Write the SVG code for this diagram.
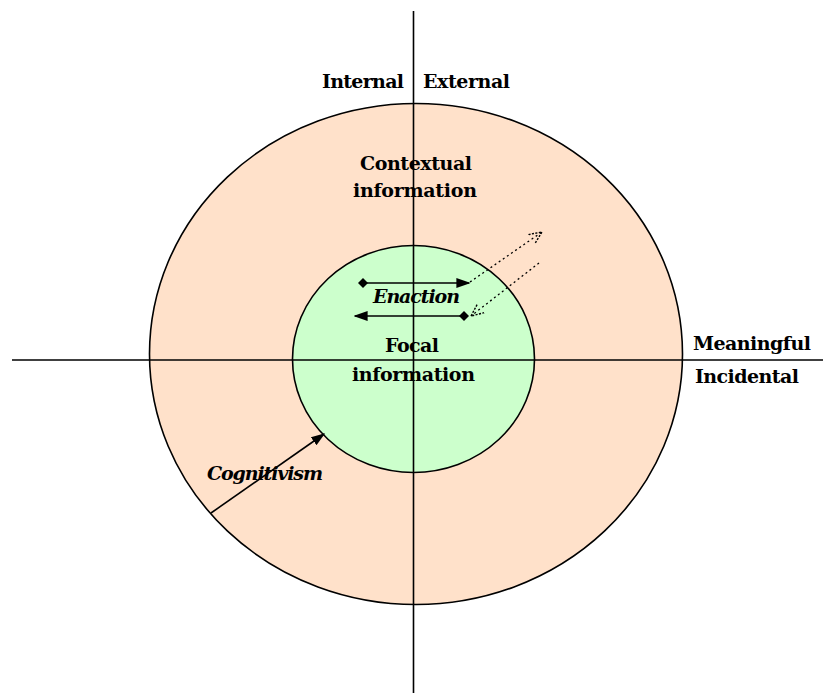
<svg xmlns="http://www.w3.org/2000/svg" width="823" height="693" viewBox="0 0 823 693">
  <defs>
    <style>
      .lbl { font-family: "DejaVu Serif", "Liberation Serif", serif; font-weight: bold; font-size: 19px; fill: #000; }
      .it { font-style: italic; }
      .ln { stroke: #000; stroke-width: 1.6; fill: none; }
      .dot { stroke: #000; stroke-width: 1.3; fill: none; stroke-dasharray: 2 3; }
    </style>
    <marker id="bigHead" viewBox="0 0 10 10" refX="9" refY="5" markerWidth="14" markerHeight="14" markerUnits="userSpaceOnUse" orient="auto">
      <path d="M0,1.5 L10,5 L0,8.5 z" fill="#000"/>
    </marker>
    <marker id="diamond" viewBox="0 0 10 10" refX="5" refY="5" markerWidth="10" markerHeight="10" markerUnits="userSpaceOnUse" orient="auto">
      <path d="M0,5 L5,0 L10,5 L5,10 z" fill="#000"/>
    </marker>
    <marker id="openHead" viewBox="0 0 10 10" refX="9" refY="5" markerWidth="14" markerHeight="14" markerUnits="userSpaceOnUse" orient="auto">
      <path d="M0,1 L9,5 L0,9" fill="none" stroke="#000" stroke-width="1" stroke-dasharray="1.5 1"/>
    </marker>
  </defs>

  <rect width="823" height="693" fill="#fff"/>

  <g id="contextual">
    <ellipse cx="416" cy="354" rx="266.5" ry="250.5" fill="#FFE1CA" stroke="#000" stroke-width="1.6"/>
  </g>
  <g id="focal">
    <ellipse cx="413.5" cy="359" rx="121" ry="113.5" fill="#CCFFCC" stroke="#000" stroke-width="1.6"/>
  </g>

  <g id="axes">
    <line class="ln" x1="413.5" y1="11" x2="413.5" y2="693"/>
    <line class="ln" x1="12" y1="360" x2="823" y2="360"/>
  </g>

  <g id="connectors">
    <line class="ln" x1="363" y1="283" x2="469" y2="283" marker-start="url(#diamond)" marker-end="url(#bigHead)"/>
    <line class="ln" x1="464" y1="316" x2="355" y2="316" marker-start="url(#diamond)" marker-end="url(#bigHead)"/>
    <line class="dot" x1="470" y1="282" x2="542" y2="232" marker-end="url(#openHead)"/>
    <line class="dot" x1="539" y1="263" x2="471" y2="316" marker-end="url(#openHead)"/>
    <line class="ln" x1="211" y1="513" x2="324" y2="434" marker-end="url(#bigHead)" stroke-width="1.3"/>
  </g>

  <g id="axis-labels">
    <text class="lbl" x="322" y="88" textLength="82">Internal</text>
    <text class="lbl" x="423" y="88" textLength="87">External</text>
    <text class="lbl" x="693" y="350" textLength="118">Meaningful</text>
    <text class="lbl" x="695" y="383" textLength="104">Incidental</text>
  </g>

  <g id="contextual-label">
    <text class="lbl" x="360" y="170" textLength="112">Contextual</text>
    <text class="lbl" x="353" y="197" textLength="124">information</text>
  </g>

  <g id="focal-label">
    <text class="lbl" x="385" y="352" textLength="54">Focal</text>
    <text class="lbl" x="352" y="381" textLength="123">information</text>
  </g>

  <g id="enaction">
    <text class="lbl it" x="373" y="303" textLength="87">Enaction</text>
  </g>

  <g id="cognitivism">
    <text class="lbl it" x="207" y="480" textLength="116">Cognitivism</text>
  </g>
</svg>
